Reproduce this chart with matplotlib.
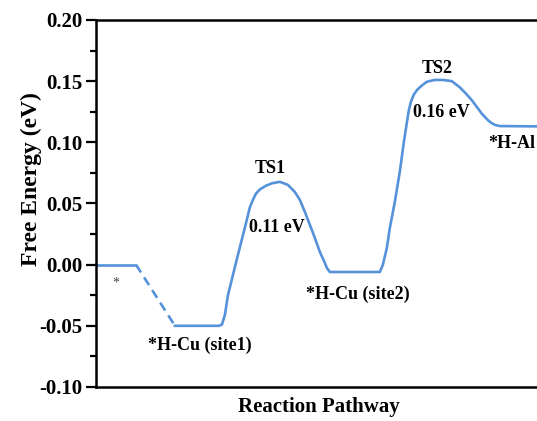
import numpy as np
import matplotlib
matplotlib.use('Agg')
from matplotlib import pyplot as plt
from matplotlib.ticker import MultipleLocator, NullLocator

plt.rcParams['font.family'] = ['Liberation Serif', 'DejaVu Serif']
plt.rcParams['font.weight'] = 'bold'

# reaction coordinate (arbitrary units) and free energy (eV)
x_start = [0, 40]
g_start = [0.0, 0.0]

x_dash = [40, 79]
g_dash = [0.0, -0.05]

x_path = [79, 123, 126, 129, 132, 137, 142, 147, 151, 154, 157, 160, 164, 170, 176, 184,
          192, 199, 204, 209, 214, 219, 224, 229, 231, 234,
          284, 287, 291, 294, 299, 304, 308, 311, 313, 315, 318, 321, 324, 327, 331, 339,
          347, 356, 364, 370, 376, 381, 386, 391, 395, 399, 404, 446]
g_path = [-0.05, -0.05, -0.049, -0.041, -0.025, -0.0085, 0.008, 0.024, 0.037, 0.047,
          0.053, 0.058, 0.0615, 0.0645, 0.0665, 0.0677, 0.0652, 0.0594, 0.0529, 0.0431,
          0.0325, 0.0218, 0.0104, 0.0014, -0.0027, -0.006,
          -0.006, -0.0002, 0.0136, 0.030, 0.0513, 0.076, 0.100, 0.116, 0.126, 0.133,
          0.139, 0.1425, 0.145, 0.147, 0.1495, 0.151, 0.151, 0.150, 0.145, 0.140, 0.1345,
          0.129, 0.1235, 0.119, 0.1162, 0.1143, 0.1133, 0.113]

labels = ['*', '*H-Cu (site1)', 'TS1', '0.11 eV', '*H-Cu (site2)', 'TS2', '0.16 eV', '*H-Al']
label_x = [20, 104, 174, 181, 262, 341, 346, 392]
label_y = [-0.015, -0.066, 0.079, 0.030, -0.024, 0.160, 0.124, 0.099]
label_ha = ['center', 'center', 'center', 'center', 'center', 'center', 'center', 'left']

blue = '#5592DA'

fig = plt.figure(figsize=(5.37, 4.21), dpi=100)
ax = fig.add_axes([0.1788, 0.0808, 0.83, 0.8717])

ax.plot(x_start, g_start, color=blue, lw=1.9, solid_capstyle='butt')
ax.plot(x_dash, g_dash, color=blue, lw=1.9, ls=(0, (3.5, 2.2)))
ax.plot(x_path, g_path, color=blue, lw=1.9, solid_joinstyle='round')

for t, x, y, ha in zip(labels, label_x, label_y, label_ha):
    if t == '*':
        ax.text(x, y, t, ha=ha, va='center', fontsize=10, fontweight='normal', color='#444444')
    else:
        ax.text(x, y, t, ha=ha, va='center', fontsize=13, fontweight='bold')

ax.set_xlim(0, 446)
ax.set_ylim(-0.10, 0.20)
ax.yaxis.set_major_locator(MultipleLocator(0.05))
ax.yaxis.set_minor_locator(MultipleLocator(0.025))
ax.xaxis.set_major_locator(NullLocator())
ax.yaxis.set_major_formatter(plt.FormatStrFormatter('%.2f'))
ax.tick_params(axis='y', which='major', direction='out', length=7, width=1.6, labelsize=15, pad=3)
ax.tick_params(axis='y', which='minor', direction='out', length=4, width=1.6)
for side in ['left', 'top', 'bottom']:
    ax.spines[side].set_linewidth(1.8)
ax.spines['right'].set_visible(False)

ax.set_ylabel('Free Energy (eV)', fontsize=17, fontweight='bold')
ax.yaxis.set_label_coords(-0.122, 0.567)
ax.set_xlabel('Reaction Pathway', fontsize=15, fontweight='bold', labelpad=7)

fig.savefig('out.png', dpi=100)
